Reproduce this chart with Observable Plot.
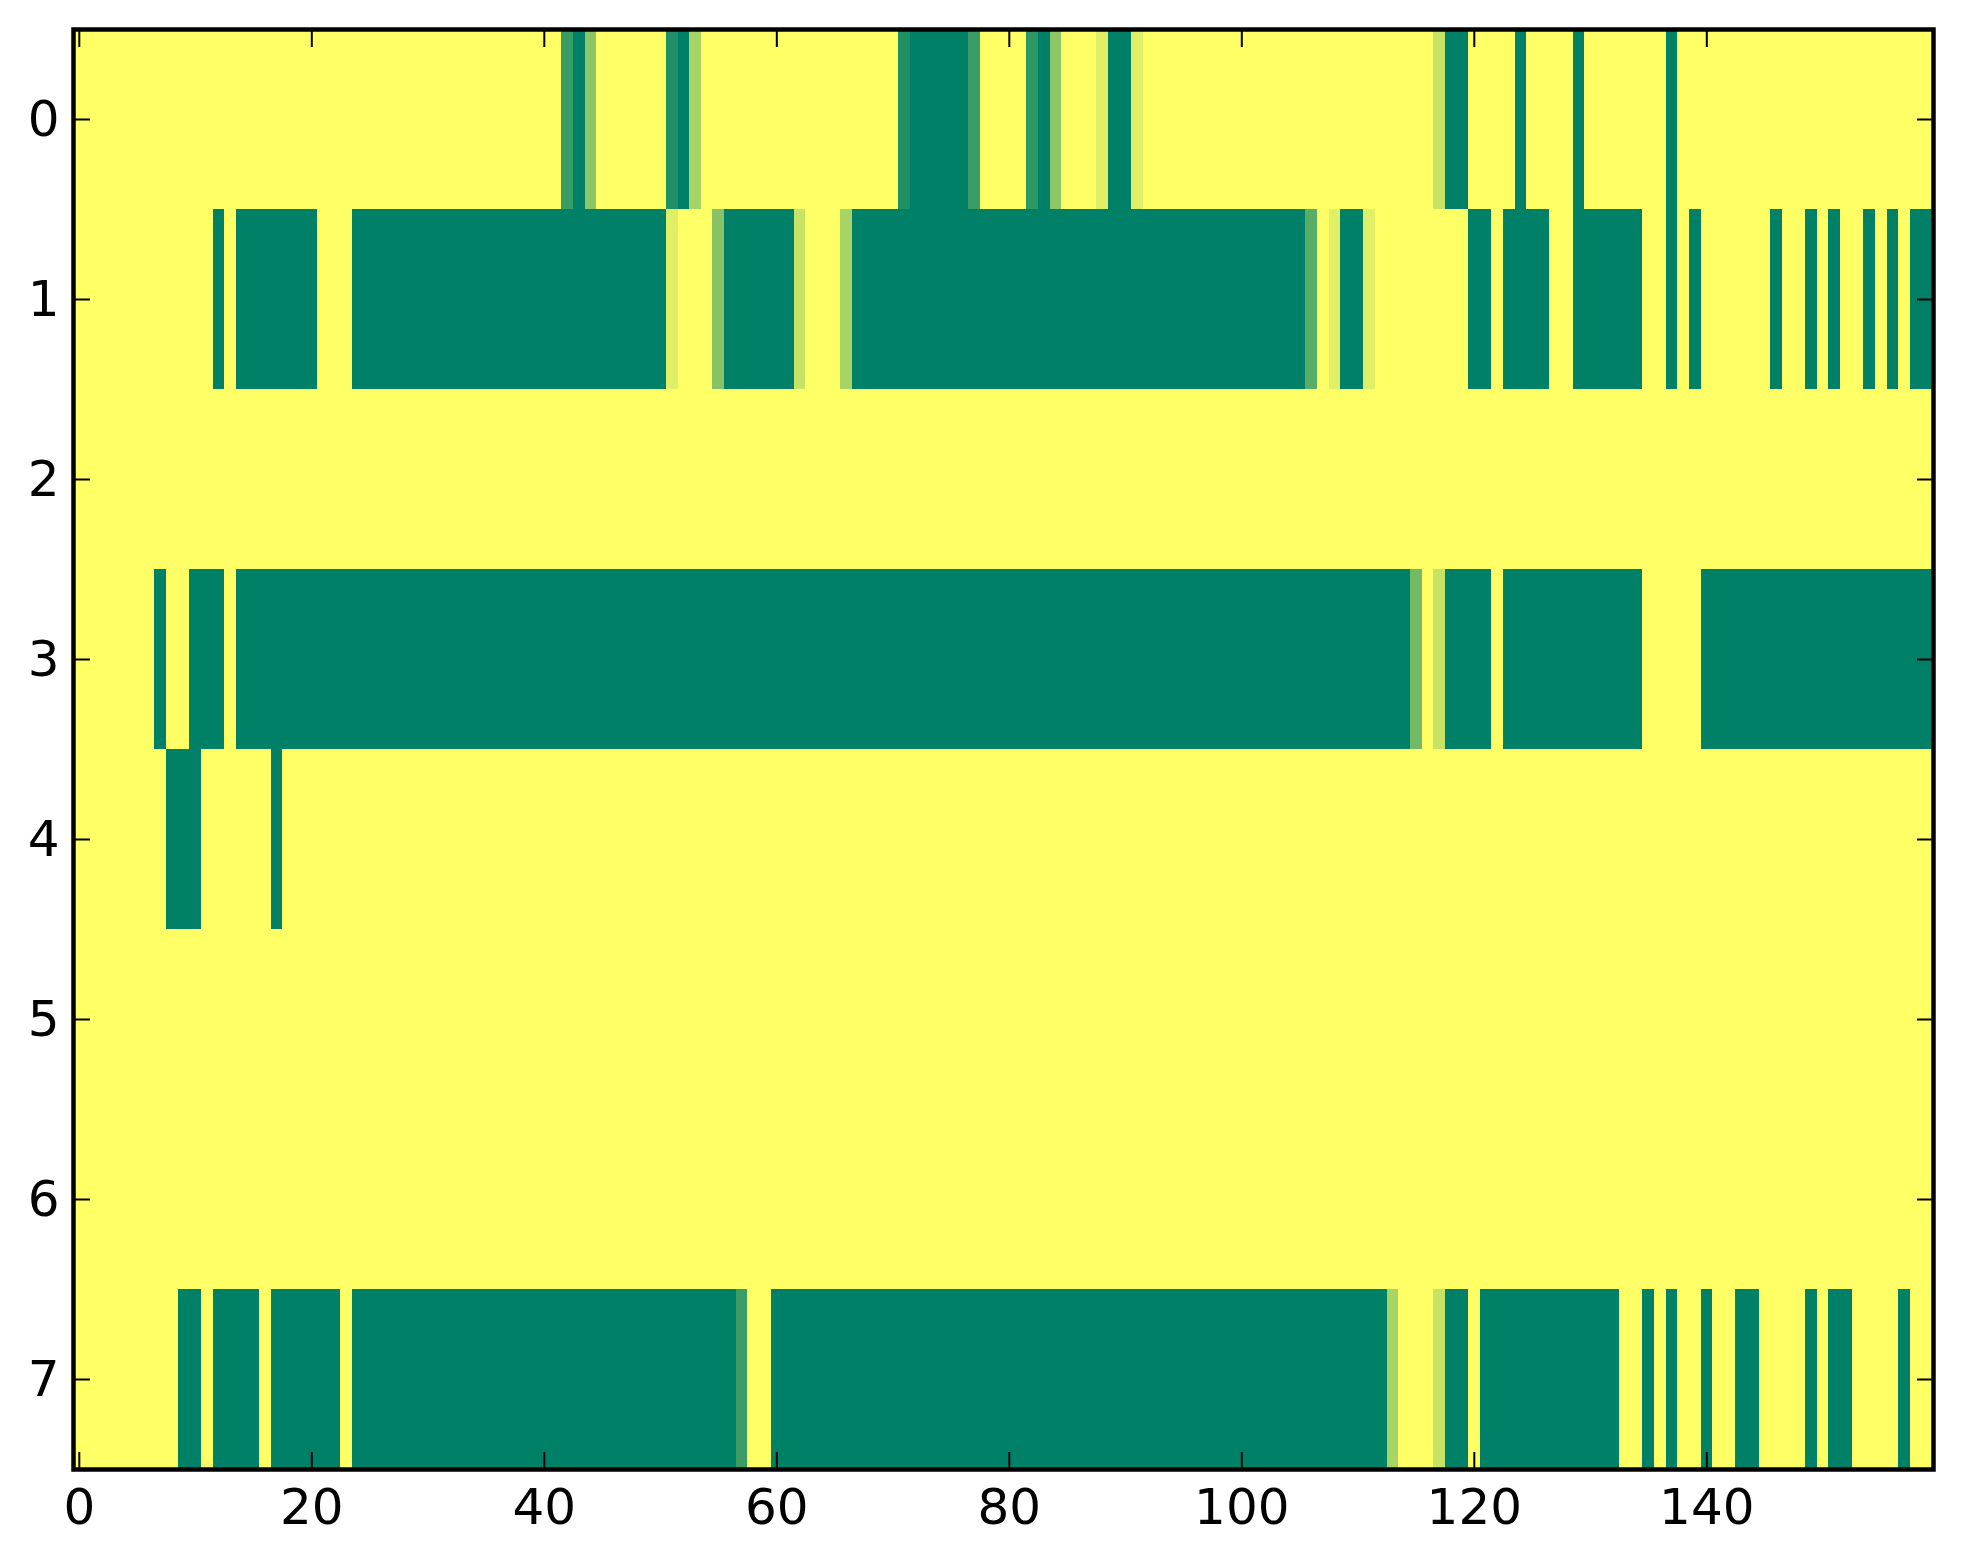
<!DOCTYPE html>
<html><head><meta charset="utf-8">
<script src="https://cdn.jsdelivr.net/npm/d3@7"></script>
<script src="https://cdn.jsdelivr.net/npm/@observablehq/plot@0.6"></script>
<style>body{margin:0;background:#fff;}</style>
</head><body><div id="chart"></div>
<script>
// Number of columns and row labels
const nCols = 160;
const rowLabels = [0, 1, 2, 3, 4, 5, 6, 7];
const xTicks = [0, 20, 40, 60, 80, 100, 120, 140];

// Each row: segments [firstCol, lastCol, value]; value 0 = yellow, 1 = full green
const row0 = [[42,42,0.77],[43,43,1],[44,44,0.45],[51,51,0.88],[52,52,1],[53,53,0.34],
  [71,71,0.88],[72,76,1],[77,77,0.77],[82,82,0.82],[83,83,1],[84,84,0.45],
  [88,88,0.12],[89,90,1],[91,91,0.12],[117,117,0.22],[118,119,1],[124,124,1],[129,129,1],[137,137,1]];
const row1 = [[12,12,1],[14,20,1],[24,50,1],[51,51,0.12],[55,55,0.47],[56,61,1],[62,62,0.22],
  [66,66,0.34],[67,105,1],[106,106,0.65],[108,108,0.12],[109,110,1],[111,111,0.12],
  [120,121,1],[123,126,1],[129,134,1],[137,137,1],[139,139,1],[146,146,1],[149,149,1],
  [151,151,1],[154,154,1],[156,156,1],[158,159,1]];
const row2 = [];
const row3 = [[7,7,1],[10,12,1],[14,114,1],[115,115,0.55],[117,117,0.22],[118,121,1],[123,134,1],[140,159,1]];
const row4 = [[8,10,1],[17,17,1]];
const row5 = [];
const row6 = [];
const row7 = [[9,10,1],[12,15,1],[17,22,1],[24,56,1],[57,57,0.77],[60,112,1],[113,113,0.34],
  [117,117,0.22],[118,119,1],[121,132,1],[135,135,1],[137,137,1],[140,140,1],[143,144,1],
  [149,149,1],[151,152,1],[157,157,1]];

const rows = [row0, row1, row2, row3, row4, row5, row6, row7];
const cells = [];
rowLabels.forEach((r, i) => {
  for (let c = 0; c < nCols; c++) {
    let v = 0;
    for (const [a, b, t] of rows[i]) if (c >= a && c <= b) v = t;
    cells.push({col: c, row: r, v});
  }
});

const blank = () => "";
const intFmt = d => String(d);
const chart = Plot.plot({
  width: 1963, height: 1564,
  marginLeft: 73, marginRight: 30, marginTop: 29, marginBottom: 95,
  style: {fontFamily: "DejaVu Sans", fontSize: "50px", color: "#000", background: "#fff"},
  x: {domain: [-0.5, nCols - 0.5]},
  y: {domain: [-0.5, rowLabels.length - 0.5], reverse: true},
  color: {type: "linear", domain: [0, 1], range: ["#ffff66", "#008066"]},
  marks: [
    Plot.rect(cells, {x1: d => d.col - 0.5, x2: d => d.col + 0.5, y1: d => d.row - 0.5, y2: d => d.row + 0.5,
      fill: "v", shapeRendering: "crispEdges"}),
    Plot.axisX(xTicks, {anchor: "bottom", tickSize: 0, tickPadding: 19, tickFormat: intFmt, label: null, fill: "#000"}),
    Plot.axisX(xTicks, {anchor: "bottom", tickSize: -17, tickFormat: blank, label: null, strokeWidth: 2}),
    Plot.axisX(xTicks, {anchor: "top", tickSize: -17, tickFormat: blank, label: null, strokeWidth: 2}),
    Plot.axisY(rowLabels, {anchor: "left", tickSize: 0, tickPadding: 14, tickFormat: intFmt, label: null, fill: "#000"}),
    Plot.axisY(rowLabels, {anchor: "left", tickSize: -17, tickFormat: blank, label: null, strokeWidth: 2}),
    Plot.axisY(rowLabels, {anchor: "right", tickSize: -17, tickFormat: blank, label: null, strokeWidth: 2}),
    Plot.frame({stroke: "#000", strokeWidth: 4.5})
  ]
});
document.getElementById("chart").appendChild(chart);
</script>
</body></html>
